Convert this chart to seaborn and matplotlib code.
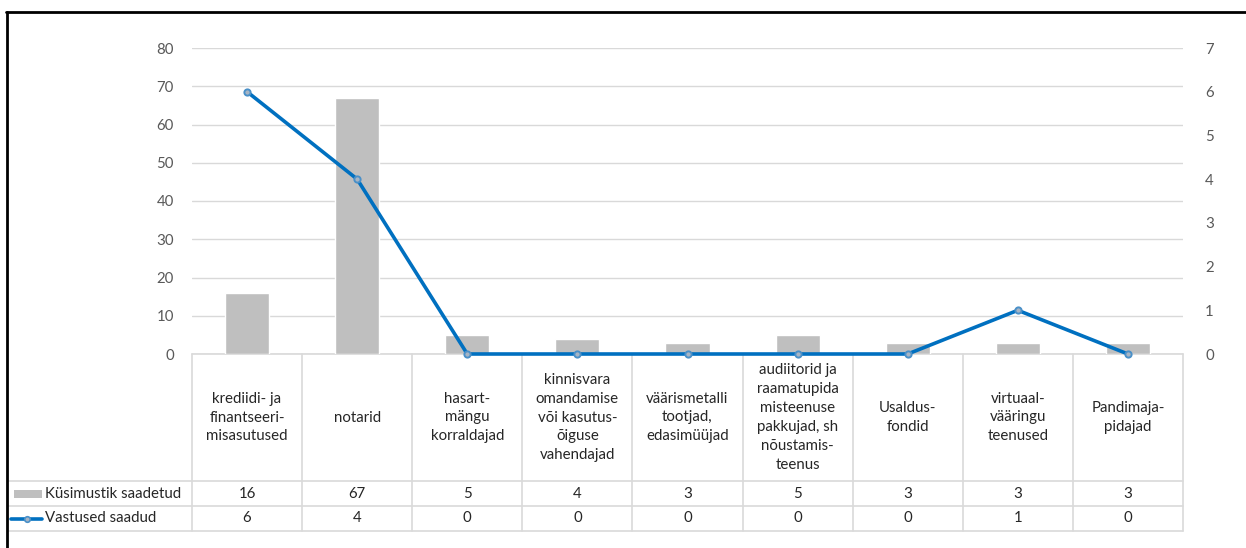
import numpy as np
import pandas as pd
import matplotlib
matplotlib.use("Agg")
import matplotlib.pyplot as plt
import matplotlib.transforms as mtransforms
from matplotlib.lines import Line2D
from matplotlib.patches import Rectangle
import seaborn as sns

# ---- data ----
categories = [
    "krediidi- ja\nfinantseeri-\nmisasutused",
    "notarid",
    "hasart-\nmängu\nkorraldajad",
    "kinnisvara\nomandamise\nvõi kasutus-\nõiguse\nvahendajad",
    "väärismetalli\ntootjad,\nedasimüüjad",
    "audiitorid ja\nraamatupida\nmisteenuse\npakkujad, sh\nnõustamis-\nteenus",
    "Usaldus-\nfondid",
    "virtuaal-\nvääringu\nteenused",
    "Pandimaja-\npidajad",
]
sent = [16, 67, 5, 4, 3, 5, 3, 3, 3]
responses = [6, 4, 0, 0, 0, 0, 0, 1, 0]
series_names = ["Küsimustik saadetud", "Vastused saadud"]
left_ticks = [0, 10, 20, 30, 40, 50, 60, 70, 80]
right_ticks = [0, 1, 2, 3, 4, 5, 6, 7]

df = pd.DataFrame({"cat": categories, "sent": sent, "resp": responses})

sns.set_theme(style="white")
plt.rcParams["font.family"] = ["Lato", "DejaVu Sans"]

W, H = 1246, 548
fig = plt.figure(figsize=(W / 100, H / 100), dpi=100)

def fx(px):
    return px / W

def fy(px):
    return 1 - px / H

ax = fig.add_axes([fx(192), fy(354), fx(1183) - fx(192), fy(48) - fy(354)])
ax.patch.set_visible(False)

BAR = "#BFBFBF"
LINE = "#0070C0"
GRID = "#D9D9D9"
TXT = "#595959"
FS = 10.8

sns.barplot(data=df, x="cat", y="sent", color=BAR, width=0.4, saturation=1,
            ax=ax, zorder=2)
ax.set_ylim(0, 80)
ax.set_yticks(left_ticks)
ax.set_xlim(-0.5, len(categories) - 0.5)
ax.yaxis.grid(True, color=GRID, linewidth=1, zorder=0)
ax.set_axisbelow(True)
ax.set_xticks([])
ax.set_xlabel("")
ax.set_ylabel("")
for s in ax.spines.values():
    s.set_visible(False)
ax.tick_params(axis="y", length=0, pad=13, labelsize=FS, labelcolor=TXT)

ax2 = ax.twinx()
ax2.patch.set_visible(False)
sns.pointplot(data=df, x="cat", y="resp", color=LINE, markers="o",
              errorbar=None, ax=ax2, linewidth=2.6,
              markersize=4.5, markeredgewidth=1.4)
for ln in ax2.lines:
    ln.set_markerfacecolor("#A6B4C4")
    ln.set_markeredgecolor("#4A90C8")
    ln.set_clip_on(False)
ax2.set_ylim(0, 7)
ax2.set_yticks(right_ticks)
ax2.set_xlim(-0.5, len(categories) - 0.5)
ax2.set_xticks([])
ax2.set_xlabel("")
ax2.set_ylabel("")
for s in ax2.spines.values():
    s.set_visible(False)
ax2.tick_params(axis="y", length=0, pad=16, labelsize=FS, labelcolor=TXT)

# ---- data table below the plot ----
tr = mtransforms.blended_transform_factory(ax.transData, fig.transFigure)
n = len(categories)
y_top, y_r1, y_r2, y_bot = fy(354), fy(481), fy(506), fy(531)
lw = 1.2

# vertical cell borders
for i in range(n + 1):
    fig.add_artist(Line2D([i - 0.5, i - 0.5], [y_top, y_bot], transform=tr,
                          color=GRID, lw=lw, zorder=-1))
# top border of header
fig.add_artist(Line2D([-0.5, n - 0.5], [y_top, y_top], transform=tr,
                      color=GRID, lw=lw, zorder=-1))
# row borders spanning the label column
for yy in (y_r1, y_r2, y_bot):
    fig.add_artist(Line2D([fx(8), ax.get_position().x1], [yy, yy],
                          transform=fig.transFigure, color=GRID, lw=lw,
                          zorder=-1))

# header: category names
for i, c in enumerate(categories):
    fig.text(i, (y_top + y_r1) / 2, c, transform=tr, ha="center", va="center",
             fontsize=FS, color="#262626", linespacing=1.45)

# value rows
for i in range(n):
    fig.text(i, (y_r1 + y_r2) / 2, str(sent[i]), transform=tr, ha="center",
             va="center", fontsize=FS, color="#262626")
    fig.text(i, (y_r2 + y_bot) / 2, str(responses[i]), transform=tr,
             ha="center", va="center", fontsize=FS, color="#262626")

# row labels with legend keys
fig.add_artist(Rectangle((fx(14), (y_r1 + y_r2) / 2 - 4 / H), fx(28), 8 / H,
                         transform=fig.transFigure, color=BAR, lw=0))
fig.text(fx(45), (y_r1 + y_r2) / 2, series_names[0], ha="left", va="center",
         fontsize=FS, color="#262626")
fig.add_artist(Line2D([fx(11), fx(42)], [(y_r2 + y_bot) / 2] * 2,
                      transform=fig.transFigure, color=LINE, lw=2.6))
fig.add_artist(Line2D([fx(27)], [(y_r2 + y_bot) / 2], transform=fig.transFigure,
                      marker="o", markersize=4, markerfacecolor="#A6B4C4",
                      markeredgecolor="#4A90C8", markeredgewidth=1.2, lw=0))
fig.text(fx(45), (y_r2 + y_bot) / 2, series_names[1], ha="left", va="center",
         fontsize=FS, color="#262626")

# chart frame (left and top edges)
fig.add_artist(Line2D([fx(7), fx(7)], [0, fy(12)], transform=fig.transFigure,
                      color="black", lw=2))
fig.add_artist(Line2D([fx(6), 1], [fy(12), fy(12)], transform=fig.transFigure,
                      color="black", lw=2))

fig.savefig("out.png", dpi=100, facecolor="white")
